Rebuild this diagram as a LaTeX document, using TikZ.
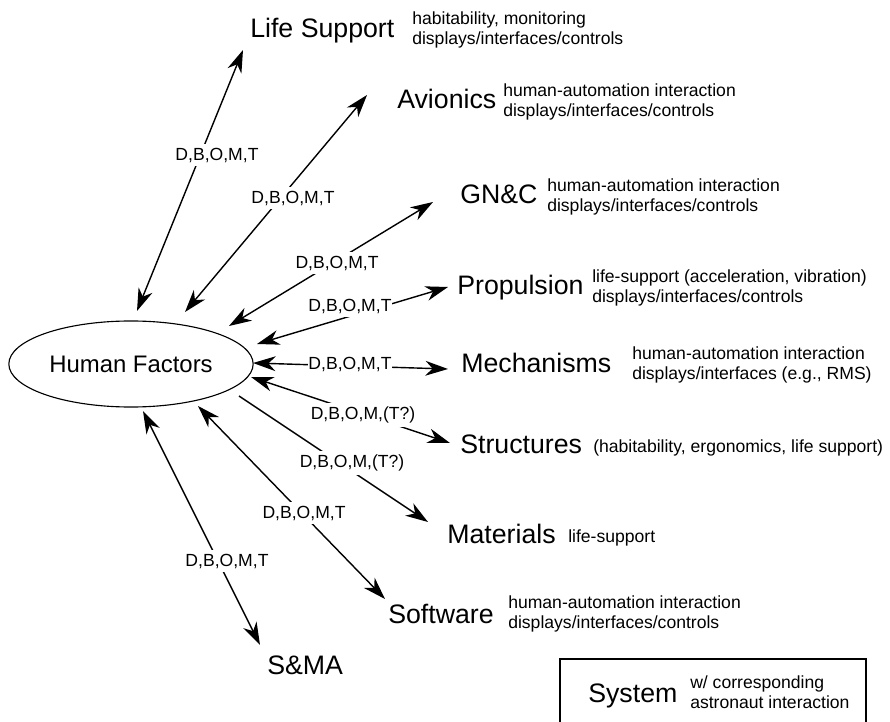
\documentclass[tikz,border=0pt]{standalone}
\usepackage{fontspec}
\setmainfont{Liberation Sans}
\usetikzlibrary{arrows.meta}
\usetikzlibrary{shapes.geometric}

\begin{document}
\begin{tikzpicture}
[
    x=0.025cm, y=-0.025cm,
    sy/.style={font=\fontsize{19}{22}\selectfont, anchor=base west, inner sep=0pt},      % sy = system
    de/.style={font=\fontsize{12.5}{14}\selectfont, anchor=west, align=left, inner sep=0pt}, % de = description
    lb/.style={font=\fontsize{12.5}{14}\selectfont, fill=white, inner xsep=0.5pt, inner ysep=3pt}, % lb = link label
    dl/.style={line width=1pt, {Stealth[length=16pt,width=10.5pt,inset=5pt]}-{Stealth[length=16pt,width=10.5pt,inset=5pt]}}, % dl = double link
    sl/.style={line width=1pt, -{Stealth[length=16pt,width=10.5pt,inset=5pt]}}, % sl = single link
]
\useasboundingbox (0,0) rectangle (890,722);

\node [draw, ellipse, line width=0.8pt, minimum width=5.925cm, minimum height=2.15cm,
       font=\fontsize{17}{20}\selectfont] (hf) at (131,364) {Human Factors};

\node [sy] (ls) at (250,38) {Life Support};
\node [de] (lsd) at (412,30) {habitability, monitoring\\displays/interfaces/controls};
\node [sy] (av) at (397,109) {Avionics};
\node [de] (avd) at (503,102) {human-automation interaction\\displays/interfaces/controls};
\node [sy] (gnc) at (460,204) {GN\&C};
\node [de] (gncd) at (547,197) {human-automation interaction\\displays/interfaces/controls};
\node [sy] (pr) at (457,295) {Propulsion};
\node [de] (prd) at (592,288) {life-support (acceleration, vibration)\\displays/interfaces/controls};
\node [sy] (me) at (461,373) {Mechanisms};
\node [de] (med) at (632,365) {human-automation interaction\\displays/interfaces (e.g., RMS)};
\node [sy] (st) at (460,453) {Structures};
\node [de, anchor=base west] (std) at (593,452) {(habitability, ergonomics, life support)};
\node [sy] (ma) at (447,543) {Materials};
\node [de, anchor=base west] (mad) at (568,542) {life-support};
\node [sy] (sw) at (388,623) {Software};
\node [de] (swd) at (508,614) {human-automation interaction\\displays/interfaces/controls};
\node [sy] (sma) at (267,674) {S\&MA};

% legend
\node [draw, line width=0.8pt, minimum width=7.65cm, minimum height=1.9cm] (key) at (713,697) {};
\node [sy] (sys) at (588,702) {System};
\node [de] (sysd) at (690,692) {w/ corresponding\\astronaut interaction};

% link ends
\coordinate (hf-ls) at (137,311);  \coordinate (ls-in) at (243,50);
\coordinate (hf-av) at (185,312);  \coordinate (av-in) at (367,95);
\coordinate (hf-gnc) at (229,326); \coordinate (gnc-in) at (433,202);
\coordinate (hf-pr) at (257,344);  \coordinate (pr-in) at (448,287);
\coordinate (hf-me) at (253,363);  \coordinate (me-in) at (448,369);
\coordinate (hf-st) at (251,377);  \coordinate (st-in) at (450,443);
\coordinate (hf-ma) at (239,396);  \coordinate (ma-in) at (428,522);
\coordinate (hf-sw) at (198,406);  \coordinate (sw-in) at (385,599);
\coordinate (hf-sma) at (143,411); \coordinate (sma-in) at (260,645);

\draw [dl] (hf-ls) -- (ls-in);
\draw [dl] (hf-av) -- (av-in);
\draw [dl] (hf-gnc) -- (gnc-in);
\draw [dl] (hf-pr) -- (pr-in);
\draw [dl] (hf-me) -- (me-in);
\draw [dl] (hf-st) -- (st-in);
\draw [sl] (hf-ma) -- (ma-in);
\draw [dl] (hf-sw) -- (sw-in);
\draw [dl] (hf-sma) -- (sma-in);

\node [lb] (l-ls) at (217,155) {D,B,O,M,T};
\node [lb] (l-av) at (293,198) {D,B,O,M,T};
\node [lb] (l-gnc) at (337,263) {D,B,O,M,T};
\node [lb] (l-pr) at (350,306) {D,B,O,M,T};
\node [lb] (l-me) at (350,364) {D,B,O,M,T};
\node [lb] (l-st) at (363,415) {D,B,O,M,(T?)};
\node [lb] (l-ma) at (352,463) {D,B,O,M,(T?)};
\node [lb] (l-sw) at (304,513) {D,B,O,M,T};
\node [lb] (l-sma) at (227,561) {D,B,O,M,T};
\end{tikzpicture}
\end{document}
